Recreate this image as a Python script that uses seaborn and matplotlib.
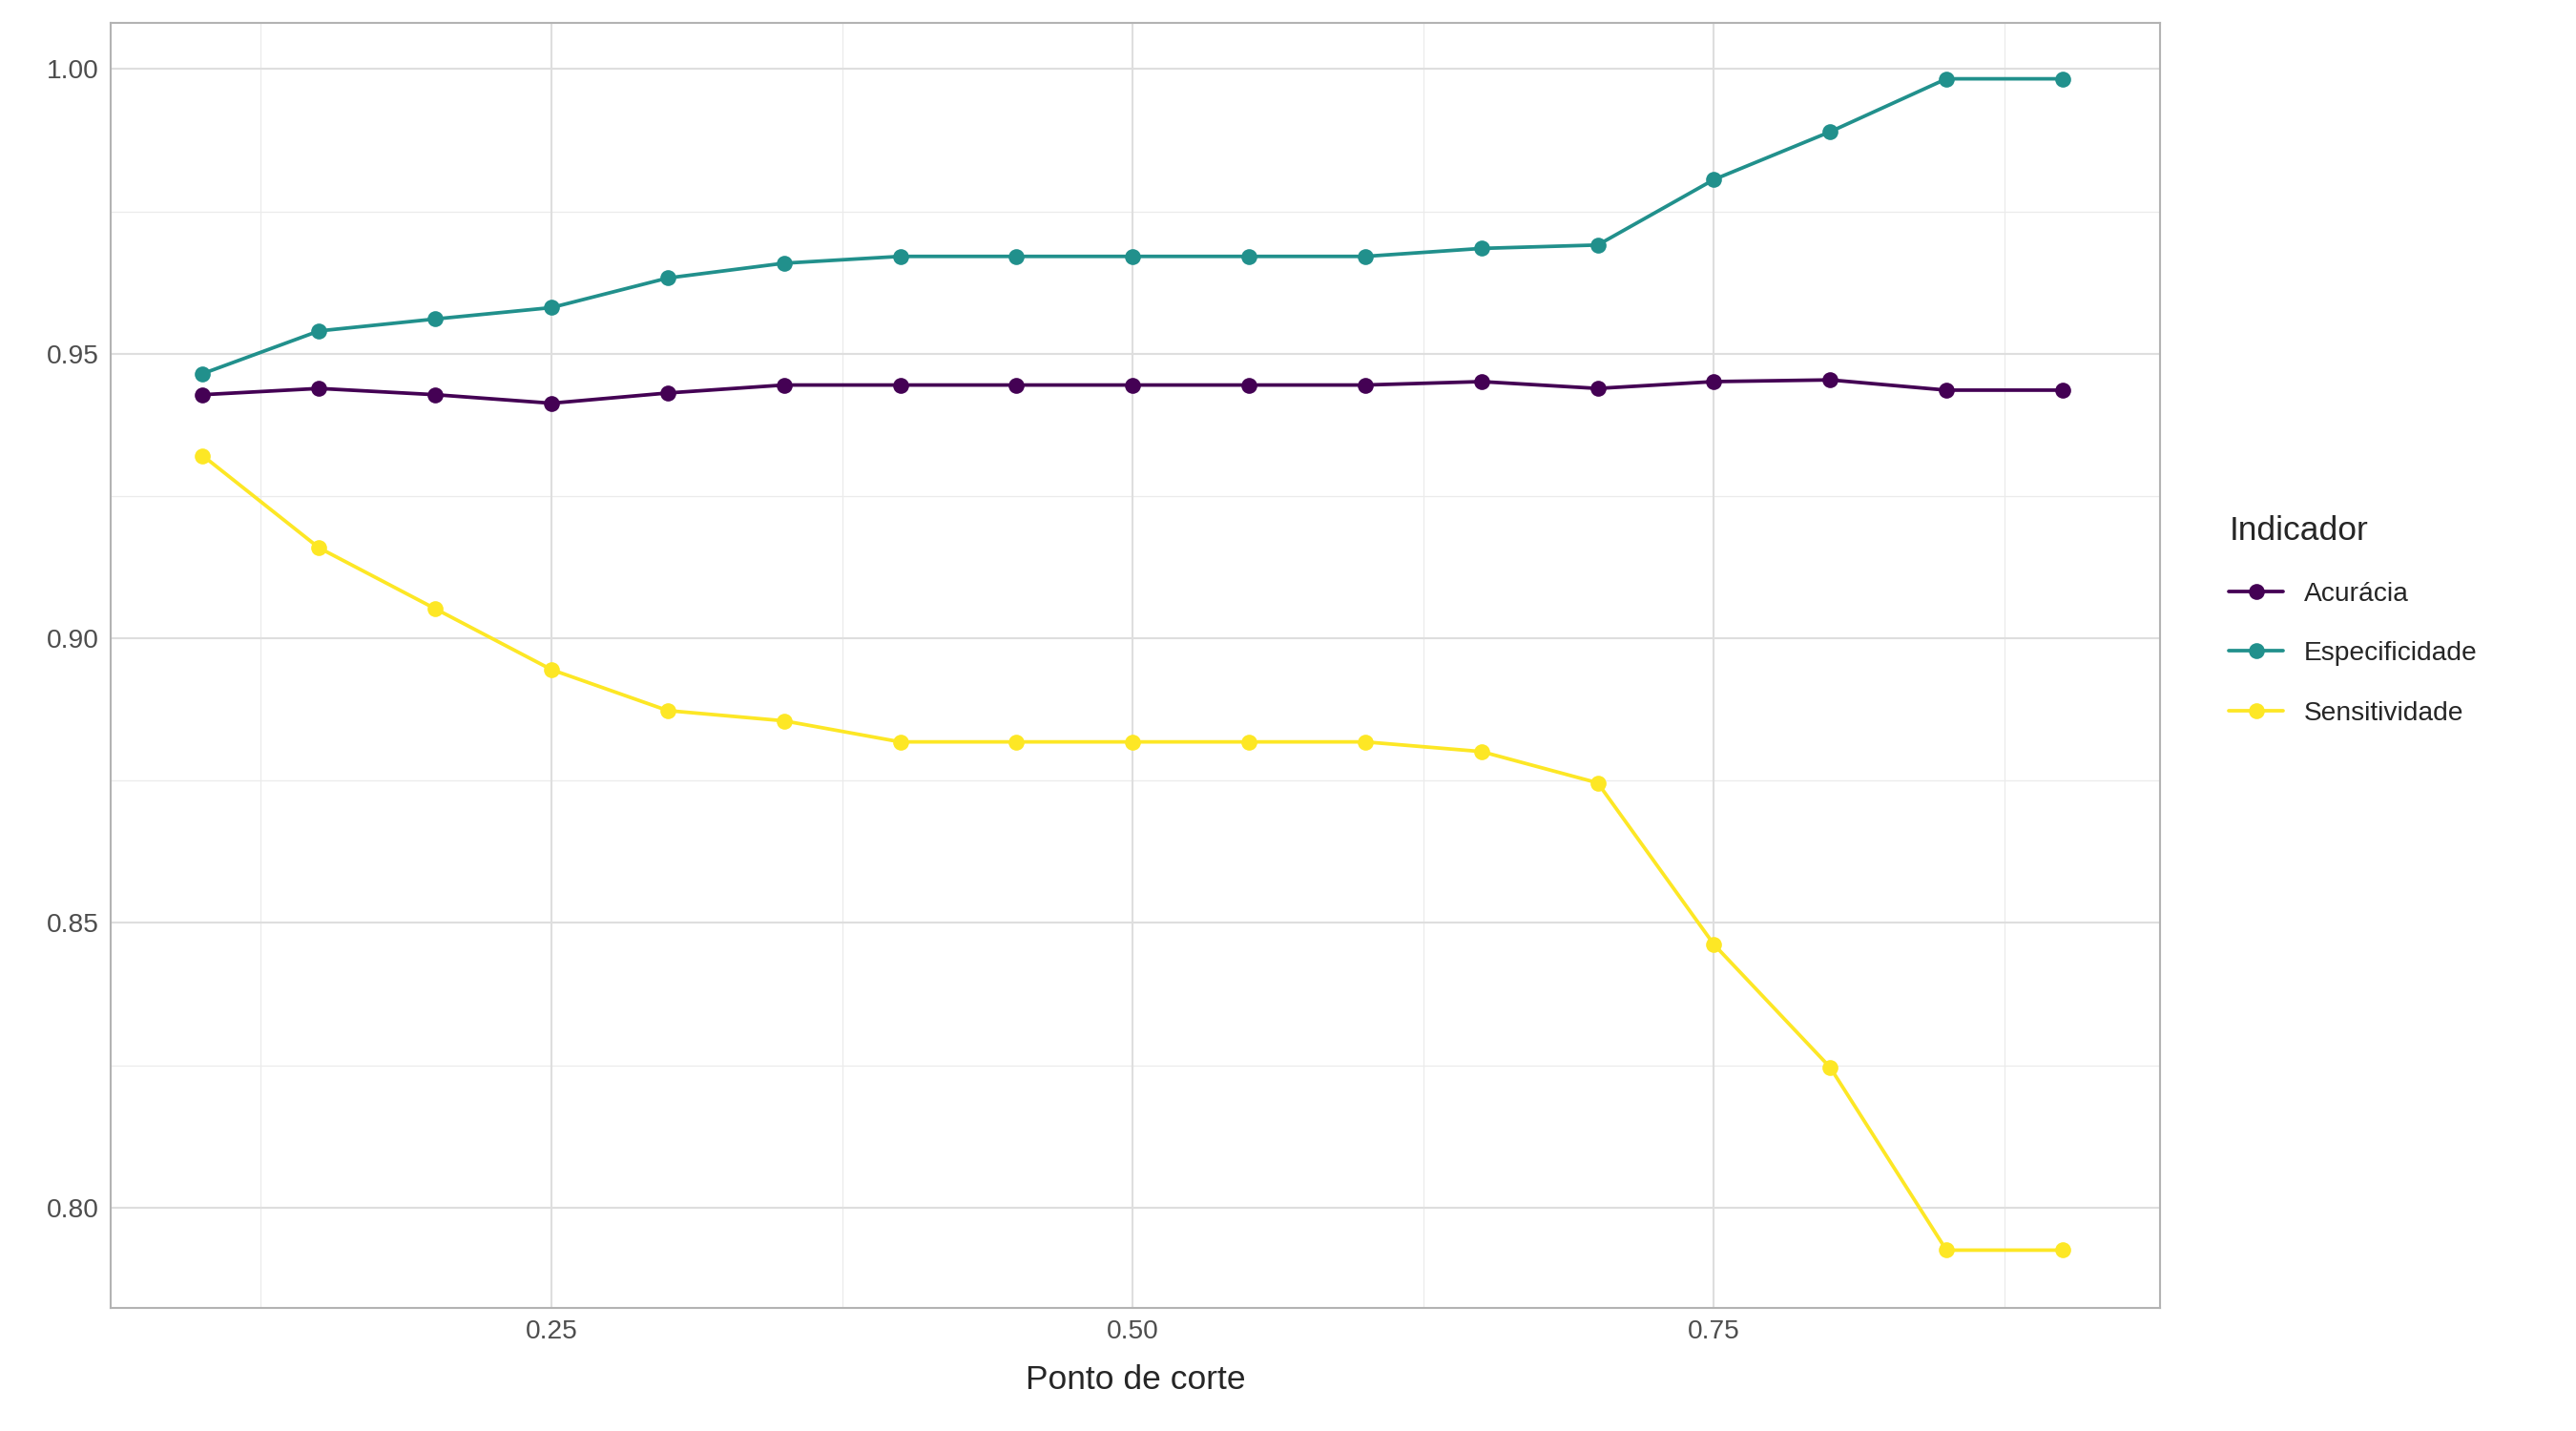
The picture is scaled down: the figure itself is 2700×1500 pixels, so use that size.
import numpy as np
import pandas as pd
import matplotlib
matplotlib.use("Agg")
import matplotlib.pyplot as plt
import seaborn as sns

cortes = [0.10, 0.15, 0.20, 0.25, 0.30, 0.35, 0.40, 0.45, 0.50,
          0.55, 0.60, 0.65, 0.70, 0.75, 0.80, 0.85, 0.90]
acuracia = [0.9428, 0.9439, 0.9428, 0.9413, 0.9431, 0.9445, 0.9445, 0.9445, 0.9445,
            0.9445, 0.9445, 0.9451, 0.9439, 0.9451, 0.9454, 0.9436, 0.9436]
especificidade = [0.9465, 0.9540, 0.9561, 0.9581, 0.9633, 0.9659, 0.9671, 0.9671, 0.9671,
                  0.9671, 0.9671, 0.9685, 0.9691, 0.9806, 0.9890, 0.9983, 0.9983]
sensitividade = [0.9321, 0.9159, 0.9052, 0.8945, 0.8873, 0.8855, 0.8818, 0.8818, 0.8818,
                 0.8818, 0.8818, 0.8801, 0.8746, 0.8462, 0.8246, 0.7925, 0.7925]
indicadores = ["Acurácia", "Especificidade", "Sensitividade"]
cores = ["#440154", "#21908C", "#FDE725"]

df = pd.DataFrame({
    "corte": cortes * 3,
    "valor": acuracia + especificidade + sensitividade,
    "Indicador": np.repeat(indicadores, len(cortes)),
})

sns.set_style("white")
plt.rcParams["font.family"] = ["Arial", "Liberation Sans", "DejaVu Sans"]

fig = plt.figure(figsize=(18, 10), dpi=150)
ax = fig.add_axes([67 / 1560, 1 - 795 / 870, (1308 - 67) / 1560, (795 - 14) / 870])

for xv in [0.125, 0.375, 0.625, 0.875]:
    ax.axvline(xv, color="#ebebeb", lw=0.6, zorder=0)
for yv in [0.825, 0.875, 0.925, 0.975]:
    ax.axhline(yv, color="#ebebeb", lw=0.6, zorder=0)
for xv in [0.25, 0.5, 0.75]:
    ax.axvline(xv, color="#dedede", lw=1.0, zorder=0)
for yv in [0.80, 0.85, 0.90, 0.95, 1.00]:
    ax.axhline(yv, color="#dedede", lw=1.0, zorder=0)

sns.lineplot(data=df, x="corte", y="valor", hue="Indicador", palette=cores,
             marker="o", markersize=8, markeredgewidth=0, linewidth=1.8, ax=ax)

ax.set_xlim(0.0604, 0.9418)
ax.set_ylim(0.7824, 1.0081)
ax.set_xticks([0.25, 0.5, 0.75])
ax.set_xticklabels(["0.25", "0.50", "0.75"])
ax.set_yticks([0.80, 0.85, 0.90, 0.95, 1.00])
ax.set_yticklabels(["0.80", "0.85", "0.90", "0.95", "1.00"])
ax.tick_params(axis="both", labelsize=13.5, colors="#4d4d4d", length=0, pad=6)
ax.set_xlabel("Ponto de corte", fontsize=17, labelpad=10)
ax.set_ylabel("")
for s in ax.spines.values():
    s.set_color("#b3b3b3")
    s.set_linewidth(1.0)

leg = ax.legend(title="Indicador", loc="center left", bbox_to_anchor=(1.022, 0.535),
                frameon=False, fontsize=13.5, title_fontsize=17, labelspacing=1.3,
                handlelength=2.0)
leg._legend_box.align = "left"

fig.savefig("out.png", dpi=150)
